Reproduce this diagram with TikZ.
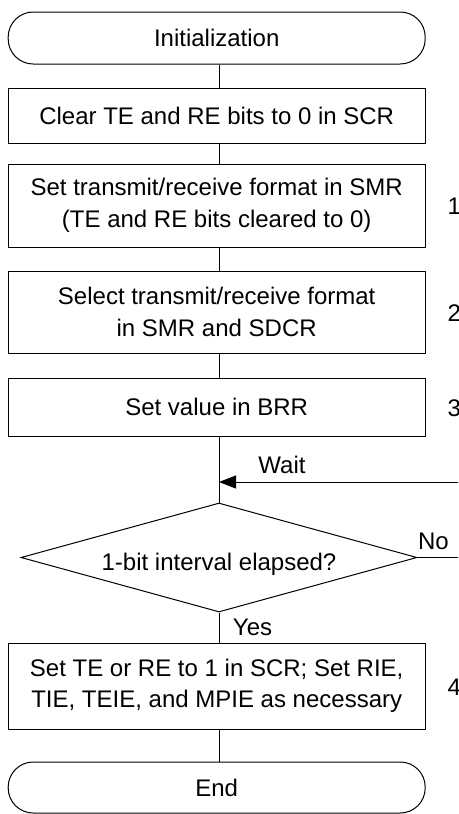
\documentclass[tikz,border=0pt]{standalone}
\usepackage{fontspec}
\setmainfont{Liberation Sans}
\usetikzlibrary{shapes.geometric,arrows.meta}
\begin{document}
\begin{tikzpicture}[x=1pt,y=-1pt,
  font=\fontsize{24}{31.5}\selectfont,
  line width=1pt,
  term/.style={draw, rectangle, rounded corners=25pt, minimum width=417pt, inner sep=0pt, align=center},
  box/.style={draw, rectangle, minimum width=417pt, inner sep=0pt, align=center},
  dec/.style={draw, diamond, minimum width=396pt, minimum height=109pt, inner sep=0pt, shape aspect=3.63},
  lbl/.style={inner sep=0pt},
  arr/.style={-{Triangle[length=17pt,width=13pt]}}
]
\useasboundingbox (0,0) rectangle (458,814);
\clip (0,0) rectangle (458,814);

\node[term, minimum height=52pt] (init) at (216.7,38) {Initialization};
\node[box, minimum height=55pt] (b1) at (216.7,115.5) {Clear TE and RE bits to 0 in SCR};
\node[box, minimum height=83pt] (b2) at (216.7,205.5) {Set transmit/receive format in SMR\\(TE and RE bits cleared to 0)};
\node[box, minimum height=82pt] (b3) at (216.7,312) {Select transmit/receive format\\in SMR and SDCR};
\node[box, minimum height=58pt] (b4) at (216.7,407) {Set value in BRR};
\node[dec] (d) at (219,557.5) {\raisebox{-12.5pt}[0pt][0pt]{1-bit interval elapsed?}};
\node[box, minimum height=86pt] (b5) at (216.7,686) {Set TE or RE to 1 in SCR; Set RIE,\\TIE, TEIE, and MPIE as necessary};
\node[term, minimum height=51pt] (end) at (216.7,787.5) {End};

\node[lbl] (wait) at (282,465) {Wait};
\node[lbl] (yes) at (252.5,627) {Yes};
\node[lbl] (no) at (433.5,541) {No};
\node[lbl, anchor=west] (n1) at (447,206) {1};
\node[lbl, anchor=west] (n2) at (447,313) {2};
\node[lbl, anchor=west] (n3) at (447,408) {3};
\node[lbl, anchor=west] (n4) at (447,687) {4};

\coordinate (lx) at (219,0);
\coordinate (wr) at (460,482);
\coordinate (nr) at (460,557.5);

\draw (init.south -| lx) -- (b1.north -| lx);
\draw (b1.south -| lx) -- (b2.north -| lx);
\draw (b2.south -| lx) -- (b3.north -| lx);
\draw (b3.south -| lx) -- (b4.north -| lx);
\draw (b4.south -| lx) -- (d.north);
\draw[arr] (wr) -- (wr -| lx);
\draw (d.south) -- (b5.north -| lx);
\draw (b5.south -| lx) -- (end.north -| lx);
\draw (d.east) -- (d.east -| nr);
\end{tikzpicture}
\end{document}
